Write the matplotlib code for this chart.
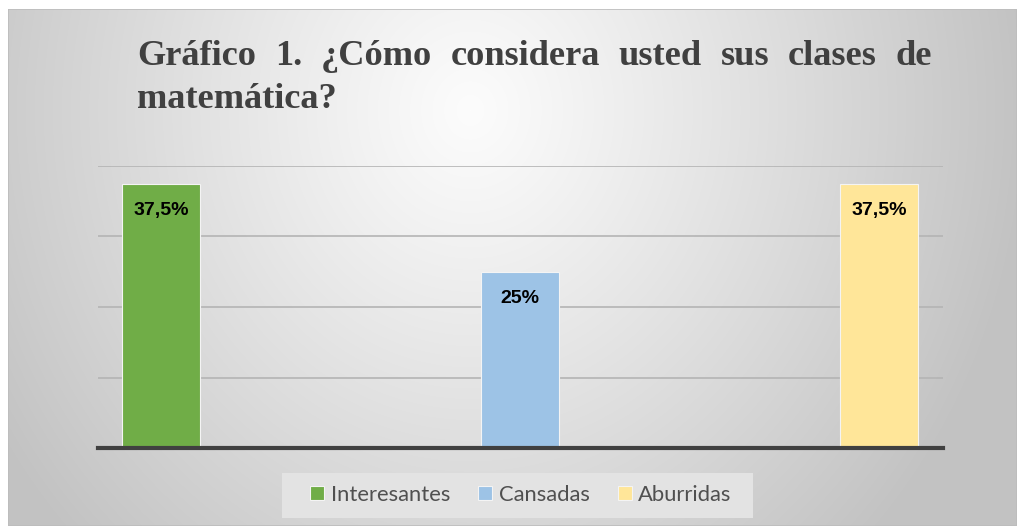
import numpy as np
import matplotlib
matplotlib.use("Agg")
import matplotlib.pyplot as plt

series = ["Interesantes", "Cansadas", "Aburridas"]
values = [37.5, 25, 37.5]
labels = ["37,5%", "25%", "37,5%"]
colors = ["#70AD47", "#9DC3E6", "#FFE699"]
title_line1 = ["Gráfico", "1.", "¿Cómo", "considera", "usted", "sus", "clases", "de"]
title_line2 = "matemática?"

W, H = 1017, 526
fig = plt.figure(figsize=(W / 100, H / 100), dpi=100)
fig.patch.set_facecolor("white")

# radial grey background of the chart area
bg = fig.add_axes([8 / W, 0, 1 - 8 / W, 1 - 9 / H])
yy, xx = np.mgrid[9:H, 8:W]
t = np.clip(np.hypot((xx - 470) / 560, (yy - 110) / 620), 0, 1)
shade = (252 - 58 * t ** 1.1) / 255
bg.imshow(np.dstack([shade] * 3), aspect="auto", extent=[0, 1, 0, 1], origin="upper")
bg.set_axis_off()
bg.add_patch(plt.Rectangle((0, 0), 1, 1, transform=bg.transAxes, fill=False,
                           edgecolor="#bdbdbd", lw=1.2))
# legend panel
bg.add_patch(plt.Rectangle((282 / W, (H - 518) / H), 471 / W, 45 / H,
                           transform=fig.transFigure, facecolor="#e3e3e3",
                           edgecolor="none", clip_on=False))

# plotting area
ax = fig.add_axes([98 / W, (H - 448) / H, 845 / W, (448 - 166) / H])
ax.patch.set_alpha(0)
x = np.arange(len(values))
bars = ax.bar(x, values, width=0.217, color=colors, edgecolor="#f4f4f4",
              linewidth=0.8, label=series, zorder=3)
ax.set_xlim(-0.1755, 2.178)
ax.set_ylim(0, 40)
ax.set_yticks([10, 20, 30, 40])
ax.yaxis.grid(True, color="#b4b4b4", lw=1.2)
ax.set_xticks([])
ax.tick_params(left=False, labelleft=False)
for s in ["top", "left", "right"]:
    ax.spines[s].set_visible(False)
ax.spines["bottom"].set_color("#404040")
ax.spines["bottom"].set_linewidth(3)
ax.spines["bottom"].set_zorder(4)

for b, v, t in zip(bars, values, labels):
    ax.annotate(t, (b.get_x() + b.get_width() / 2, v), xytext=(0, -27),
                textcoords="offset pixels", ha="center", va="center",
                fontsize=14, fontweight="bold", family="Liberation Sans", color="black", zorder=5)

leg = ax.legend(loc="center", bbox_to_anchor=(521 / W, (H - 495) / H),
                bbox_transform=fig.transFigure, ncol=3, frameon=False,
                prop={"family": "Lato", "size": 15.8}, handlelength=0.62, handleheight=0.62,
                handletextpad=0.3, columnspacing=1.3, borderpad=0.3)
for t in leg.get_texts():
    t.set_color("#505050")

# justified title, first line word by word
tkw = dict(family="Liberation Serif", fontweight="bold", fontsize=26.2, color="#404040",
           va="baseline")
x0, x1 = 137, 932
words = [fig.text(0, 1 - 65 / H, w, **tkw) for w in title_line1]
fig.canvas.draw()
r = fig.canvas.get_renderer()
widths = [w.get_window_extent(r).width for w in words]
gap = (x1 - x0 - sum(widths)) / (len(words) - 1)
pos = x0
for w, wd in zip(words, widths):
    w.set_x(pos / W)
    pos += wd + gap
fig.text(x0 / W, 1 - 108 / H, title_line2, **tkw)

fig.savefig("out.png", dpi=100)
